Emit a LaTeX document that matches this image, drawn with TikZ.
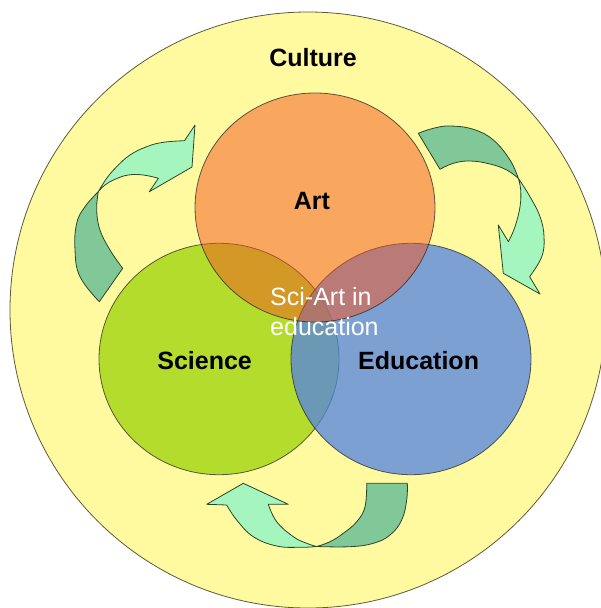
\documentclass[tikz,border=0pt]{standalone}
\usepackage{fontspec}
\setmainfont{Liberation Sans}
\definecolor{bg}{RGB}{255,250,160}
\definecolor{sci}{RGB}{180,220,45}
\definecolor{edu}{RGB}{82,130,227}
\definecolor{art}{RGB}{245,86,32}
\definecolor{arrowlight}{RGB}{165,245,190}
\definecolor{arrowdark}{RGB}{128,200,152}
\definecolor{edge}{RGB}{40,40,40}
\definecolor{outeredge}{RGB}{90,90,60}
\definecolor{arrowedge}{RGB}{40,70,40}
\begin{document}
\begin{tikzpicture}[x=1pt,y=-1pt,
  venn/.style={draw=edge, draw opacity=0.75, line width=0.8pt},
  arrowl/.style={fill=arrowlight, draw=arrowedge, line width=0.8pt, line join=round},
  arrowd/.style={fill=arrowdark, draw=arrowedge, line width=0.8pt, line join=round},
  lbl/.style={font=\bfseries\fontsize{25}{30}\selectfont, text=black, inner sep=0pt, anchor=base},
  inner/.style={font=\fontsize{25}{30}\selectfont, text=white, inner sep=0pt, anchor=base west},
  sm/.style={smooth, tension=0.7}]
\clip (0,0) rectangle (601,608);
\fill[white] (0,0) rectangle (601,608);
% culture
\draw[fill=bg, draw=outeredge, line width=0.8pt] (308,310) circle[radius=298];
% venn
\fill[sci] (219,359) ellipse[x radius=120, y radius=115.7];
\draw[venn] (219,359) ellipse[x radius=120, y radius=115.7];
\fill[edu, fill opacity=0.75] (411,359) ellipse[x radius=120, y radius=115.7];
\draw[venn] (411,359) ellipse[x radius=120, y radius=115.7];
\fill[art, fill opacity=0.5] (315,207.5) ellipse[x radius=120, y radius=114.5];
\draw[venn] (315,207.5) ellipse[x radius=120, y radius=114.5];
% arrow left
\path[arrowd] plot[sm] coordinates {(99.3,301.7) (80,276.7) (75,250) (76.7,223.3) (85,206.7) (98.3,191.7)}
  -- plot[sm] coordinates {(98.3,191.7) (96.7,210) (100,230) (110,250) (122.7,268.3)} -- cycle;
\path[arrowl] plot[sm] coordinates {(98.3,191.7) (106.7,178.3) (116.7,166.7) (130,155) (146.7,146.7) (163.3,142.3) (184.5,140.7)}
  -- (195,125) -- (192,167) -- (149.3,191.7) -- (158.4,178.3)
  -- plot[sm] coordinates {(158.4,178.3) (143.3,175) (128.3,175) (115,179.3) (105,185) (98.3,191.7)} -- cycle;
% arrow right
\path[arrowd] plot[sm] coordinates {(418.3,133.3) (433.3,128.3) (450,126) (473.3,129.3) (493.3,140) (510,160) (518.3,178.3)}
  -- plot[sm] coordinates {(518.3,178.3) (506.7,170) (490,164) (470,161) (453.3,163.3) (440,169.3)} -- cycle;
\path[arrowl] plot[sm] coordinates {(518.3,178.3) (530,196.7) (540,216.7) (544,236.7) (541.7,256.7) (529.6,276.7)}
  -- (540,294) -- (503.3,273.3) -- (498.3,225) -- (508.4,241.7)
  -- plot[sm] coordinates {(508.4,241.7) (515,226.7) (520,206.7) (520.7,190) (518.3,178.3)} -- cycle;
% arrow bottom
\path[arrowd] plot[sm] coordinates {(407.3,483.3) (406.7,500) (401.7,520) (390,535) (373.3,543.3) (350,546.7) (316.7,546.5)}
  -- plot[sm] coordinates {(316.7,546.5) (330,541.7) (343.3,533.3) (356.7,521.7) (365,506.7) (366.7,483.3)} -- cycle;
\path[arrowl] plot[sm] coordinates {(316.7,546.5) (300,547.3) (276.7,546) (253.3,536.7) (236.7,520) (226.7,505)}
  -- (206.7,504.3) -- (243.3,483.3) -- (288.3,504.3) -- (268.3,504.3)
  -- plot[sm] coordinates {(268.3,504.3) (276.7,521.7) (293.3,536.7) (306.7,543.3) (316.7,546.5)} -- cycle;
% labels
\node[lbl] (culture) at (313,66) {Culture};
\node[lbl] (art) at (312,209) {Art};
\node[lbl] (science) at (204.6,369) {Science};
\node[lbl] (education) at (418.6,369) {Education};
\node[inner] (sciart1) at (270,305.5) {Sci-Art in};
\node[inner] (sciart2) at (270,335) {education};
\end{tikzpicture}
\end{document}
